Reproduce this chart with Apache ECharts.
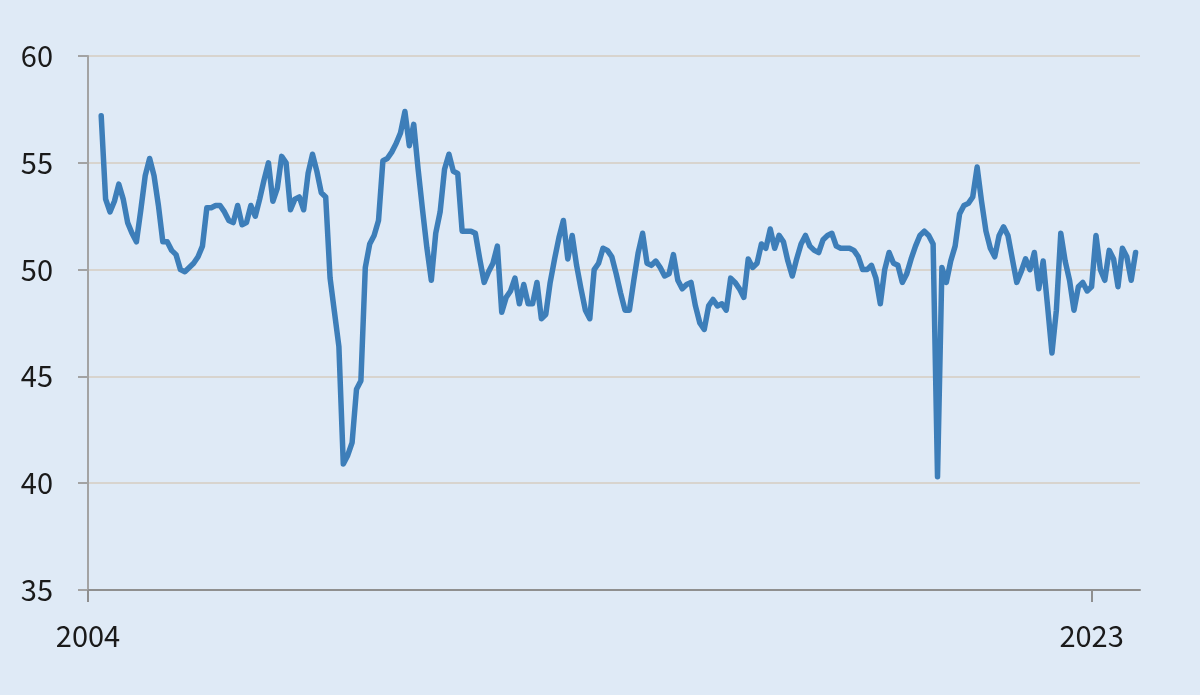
<!DOCTYPE html>
<html><head><meta charset="utf-8">
<script src="https://cdn.jsdelivr.net/npm/echarts@6.0.0/dist/echarts.min.js"></script>
<style>html,body{margin:0;padding:0;background:#dfeaf6;}#c{width:1200px;height:695px;}</style>
</head><body><div id="c"></div>
<script>
// Monthly PMI readings (first value = Apr 2004, last = Nov 2023)
const pmi2004 = [57.2, 53.3, 52.7, 53.2, 54.0, 53.3, 52.2, 51.7, 51.3]; // Apr–Dec
const pmi2005 = [52.8, 54.4, 55.2, 54.4, 53.0, 51.3, 51.3, 50.9, 50.7, 50.0, 49.9, 50.1];
const pmi2006 = [50.3, 50.6, 51.1, 52.9, 52.9, 53.0, 53.0, 52.7, 52.3, 52.2, 53.0, 52.1];
const pmi2007 = [52.2, 53.0, 52.5, 53.3, 54.2, 55.0, 53.2, 53.8, 55.3, 55.0, 52.8, 53.3];
const pmi2008 = [53.4, 52.8, 54.5, 55.4, 54.6, 53.6, 53.4, 49.6, 48.0, 46.4, 40.9, 41.3];
const pmi2009 = [41.9, 44.4, 44.8, 50.1, 51.2, 51.6, 52.3, 55.1, 55.2, 55.5, 55.9, 56.4];
const pmi2010 = [57.4, 55.8, 56.8, 54.7, 52.8, 51.0, 49.5, 51.7, 52.7, 54.7, 55.4, 54.6];
const pmi2011 = [54.5, 51.8, 51.8, 51.8, 51.7, 50.5, 49.4, 49.9, 50.3, 51.1, 48.0, 48.7];
const pmi2012 = [49.0, 49.6, 48.4, 49.3, 48.4, 48.4, 49.4, 47.7, 47.9, 49.4, 50.5, 51.5];
const pmi2013 = [52.3, 50.5, 51.6, 50.2, 49.1, 48.1, 47.7, 50.0, 50.3, 51.0, 50.9, 50.6];
const pmi2014 = [49.8, 48.9, 48.1, 48.1, 49.5, 50.8, 51.7, 50.3, 50.2, 50.4, 50.1, 49.7];
const pmi2015 = [49.8, 50.7, 49.5, 49.1, 49.3, 49.4, 48.3, 47.5, 47.2, 48.3, 48.6, 48.3];
const pmi2016 = [48.4, 48.1, 49.6, 49.4, 49.1, 48.7, 50.5, 50.1, 50.3, 51.2, 51.0, 51.9];
const pmi2017 = [51.0, 51.6, 51.3, 50.4, 49.7, 50.5, 51.2, 51.6, 51.1, 50.9, 50.8, 51.4];
const pmi2018 = [51.6, 51.7, 51.1, 51.0, 51.0, 51.0, 50.9, 50.6, 50.0, 50.0, 50.2, 49.6];
const pmi2019 = [48.4, 50.0, 50.8, 50.3, 50.2, 49.4, 49.8, 50.5, 51.1, 51.6, 51.8, 51.6];
const pmi2020 = [51.2, 40.3, 50.1, 49.4, 50.4, 51.1, 52.6, 53.0, 53.1, 53.4, 54.8, 53.2];
const pmi2021 = [51.8, 51.0, 50.6, 51.6, 52.0, 51.6, 50.5, 49.4, 49.9, 50.5, 50.0, 50.8];
const pmi2022 = [49.1, 50.4, 48.3, 46.1, 48.1, 51.7, 50.4, 49.5, 48.1, 49.2, 49.4, 49.0];
const pmi2023 = [49.2, 51.6, 50.0, 49.5, 50.9, 50.5, 49.2, 51.0, 50.6, 49.5, 50.8]; // Jan–Nov

// Category axis: every month Jan 2004 – Dec 2023
const firstYear = 2004, lastYear = 2023;
const categories = [];
for (let y = firstYear; y <= lastYear; y++) for (let m = 1; m <= 12; m++) categories.push(y + '-' + String(m).padStart(2, '0'));
const xTickLabels = { '2004-01': '2004', '2023-01': '2023' };
const yMin = 35, yMax = 60, yStep = 5;

const leading = ['-', '-', '-']; // Jan–Mar 2004 not covered
const values = [].concat(leading, pmi2004, pmi2005, pmi2006, pmi2007, pmi2008, pmi2009, pmi2010,
  pmi2011, pmi2012, pmi2013, pmi2014, pmi2015, pmi2016, pmi2017, pmi2018, pmi2019, pmi2020,
  pmi2021, pmi2022, pmi2023);

const FONT = "'Noto Sans CJK SC', 'Liberation Sans', sans-serif";
const chart = echarts.init(document.getElementById('c'), null, { renderer: 'canvas' });
chart.setOption({
  backgroundColor: '#dfeaf6',
  animation: false,
  grid: { left: 88, right: 60, top: 56, bottom: 105 },
  xAxis: {
    type: 'category',
    data: categories,
    boundaryGap: false,
    axisLine: { show: true, lineStyle: { color: '#8f8f8f', width: 2 } },
    axisTick: { show: true, length: 12, interval: (i, v) => v in xTickLabels, lineStyle: { color: '#8f8f8f', width: 2 } },
    axisLabel: { interval: (i, v) => v in xTickLabels, formatter: v => xTickLabels[v] || '', fontSize: 29, color: '#1a1a1a', fontFamily: FONT, margin: 31 },
    splitLine: { show: false }
  },
  yAxis: {
    type: 'value',
    min: yMin, max: yMax, interval: yStep,
    axisLine: { show: true, lineStyle: { color: '#a3a3a3', width: 2 } },
    axisTick: { show: true, length: 10, lineStyle: { color: '#a3a3a3', width: 2 } },
    axisLabel: { fontSize: 29, color: '#1a1a1a', fontFamily: FONT, margin: 35 },
    splitLine: { show: true, lineStyle: { color: '#d8d4ce', width: 2 } }
  },
  series: [{
    type: 'line',
    data: values,
    showSymbol: false,
    symbol: 'none',
    connectNulls: false,
    lineStyle: { color: '#3d7eb9', width: 5.5, join: 'round', cap: 'round' }
  }]
});
</script></body></html>
